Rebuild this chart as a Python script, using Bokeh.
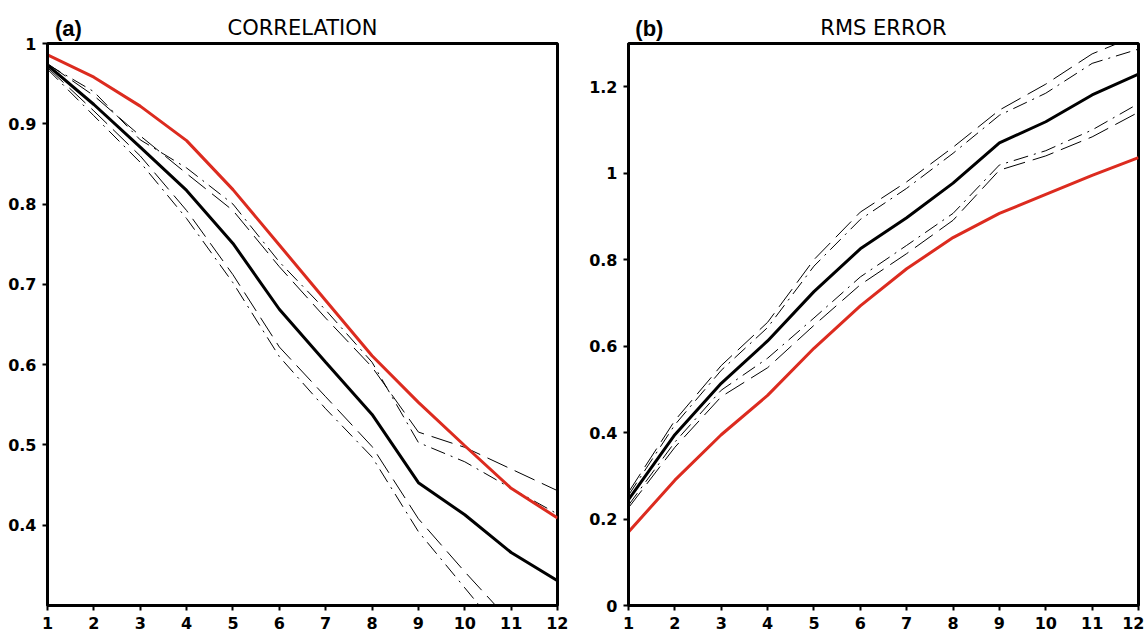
from bokeh.plotting import figure
from bokeh.layouts import row
from bokeh.models import (FixedTicker, CustomJSTickFormatter, Range1d, LinearAxis)
from bokeh.embed import file_html
from bokeh.resources import INLINE

lead = [1, 2, 3, 4, 5, 6, 7, 8, 9, 10, 11, 12]

# (a) correlation
corr_red = [0.986, 0.958, 0.922, 0.879, 0.818, 0.749, 0.680, 0.611, 0.553, 0.499, 0.446, 0.409]
corr_black = [0.973, 0.924, 0.871, 0.817, 0.751, 0.669, 0.603, 0.538, 0.453, 0.413, 0.366, 0.331]
corr_up_dash = [0.975, 0.935, 0.885, 0.838, 0.792, 0.722, 0.658, 0.597, 0.516, 0.497, 0.470, 0.443]
corr_up_dashdot = [0.974, 0.940, 0.880, 0.845, 0.800, 0.728, 0.668, 0.603, 0.503, 0.479, 0.446, 0.414]
corr_lo_dash = [0.970, 0.916, 0.860, 0.792, 0.712, 0.622, 0.560, 0.498, 0.408, 0.342, 0.279, 0.220]
corr_lo_dashdot = [0.968, 0.910, 0.852, 0.782, 0.702, 0.610, 0.545, 0.485, 0.392, 0.322, 0.252, 0.200]

# (b) RMS error
rms_red = [0.170, 0.290, 0.395, 0.486, 0.595, 0.693, 0.779, 0.851, 0.907, 0.951, 0.995, 1.036]
rms_black = [0.245, 0.395, 0.514, 0.612, 0.726, 0.825, 0.897, 0.977, 1.070, 1.119, 1.181, 1.229]
rms_up_dash = [0.262, 0.428, 0.555, 0.655, 0.800, 0.910, 0.980, 1.060, 1.146, 1.206, 1.276, 1.320]
rms_up_dashdot = [0.255, 0.418, 0.544, 0.643, 0.785, 0.893, 0.965, 1.046, 1.134, 1.185, 1.254, 1.287]
rms_lo_dashdot = [0.232, 0.378, 0.498, 0.572, 0.665, 0.760, 0.833, 0.907, 1.019, 1.052, 1.100, 1.161]
rms_lo_dash = [0.226, 0.366, 0.483, 0.550, 0.648, 0.742, 0.814, 0.891, 1.007, 1.040, 1.084, 1.141]

x_ticks = lead
corr_ticks = [0.4, 0.5, 0.6, 0.7, 0.8, 0.9, 1.0]
rms_ticks = [0.0, 0.2, 0.4, 0.6, 0.8, 1.0, 1.2]

RED = "#dc2b1f"
DASH = "22 8"
DASHDOT = "15 6 2 6"
FONT = "DejaVu Sans"

fmt_code = "return Number(tick.toFixed(2)).toString();"


def make_panel(width, left, right, yr, yticks, letter, title, series):
    p = figure(width=width, height=635, x_range=Range1d(1, 12), y_range=yr,
               output_backend="svg", toolbar_location=None,
               min_border_left=left, min_border_right=right,
               min_border_top=43, min_border_bottom=30)
    p.grid.visible = False
    p.outline_line_color = "black"
    p.outline_line_width = 3
    p.background_fill_color = "white"
    p.border_fill_color = "white"
    for ax in (p.xaxis[0], p.yaxis[0]):
        ax.axis_line_width = 3
        ax.axis_line_color = "black"
        ax.major_tick_line_width = 2
        ax.major_tick_line_color = "black"
        ax.major_tick_in = 0
        ax.major_tick_out = 5
        ax.minor_tick_line_color = None
        ax.major_label_text_font = FONT
        ax.major_label_text_font_style = "bold"
        ax.major_label_text_font_size = "16px"
        ax.major_label_text_color = "black"
        ax.major_label_standoff = 6
        ax.formatter = CustomJSTickFormatter(code=fmt_code)
    p.xaxis[0].ticker = FixedTicker(ticks=x_ticks)
    p.yaxis[0].ticker = FixedTicker(ticks=yticks)

    for ys, color, w, dash in series:
        p.line(lead, ys, line_color=color, line_width=w, line_dash=dash)

    # header line: panel letter as a tick label, panel title as the axis label
    head = LinearAxis(
        ticker=FixedTicker(ticks=[1.45]),
        formatter=CustomJSTickFormatter(code="return '%s';" % letter),
        axis_line_color=None, major_tick_line_color=None,
        minor_tick_line_color=None,
        major_tick_in=0, major_tick_out=0,
        major_label_standoff=3,
        major_label_text_font="Liberation Sans",
        major_label_text_font_style="bold",
        major_label_text_font_size="22px",
        major_label_text_color="black",
        axis_label=title,
        axis_label_standoff=-27,
        axis_label_text_font=FONT,
        axis_label_text_font_style="normal",
        axis_label_text_font_size="21px",
        axis_label_text_color="black",
    )
    p.add_layout(head, "above")
    return p


p1 = make_panel(568, 47, 11, Range1d(0.3, 1.0), corr_ticks, "(a)", "CORRELATION", [
    (corr_up_dash, "black", 1, DASH),
    (corr_up_dashdot, "black", 1, DASHDOT),
    (corr_lo_dash, "black", 1, DASH),
    (corr_lo_dashdot, "black", 1, DASHDOT),
    (corr_black, "black", 3, "solid"),
    (corr_red, RED, 3, "solid"),
])

p2 = make_panel(576, 60, 6, Range1d(0.0, 1.3), rms_ticks, "(b)", "RMS ERROR", [
    (rms_up_dash, "black", 1, DASH),
    (rms_up_dashdot, "black", 1, DASHDOT),
    (rms_lo_dash, "black", 1, DASH),
    (rms_lo_dashdot, "black", 1, DASHDOT),
    (rms_black, "black", 3, "solid"),
    (rms_red, RED, 3, "solid"),
])

layout = row(p1, p2)
open("out.html", "w").write(file_html(layout, INLINE))
